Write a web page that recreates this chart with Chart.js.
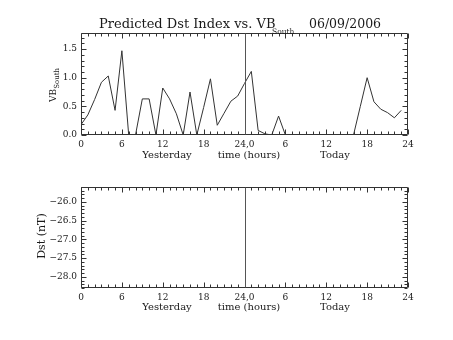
<!DOCTYPE html>
<html>
<head>
<meta charset="utf-8">
<script src="https://cdn.jsdelivr.net/npm/chart.js@4.4.0/dist/chart.umd.min.js"></script>
<style>
	body { margin: 0; background: #fff; }
	#wrap { position: relative; width: 453px; height: 340px; font-family: "DejaVu Serif", serif; color: #1a1a1a; }
	canvas { position: absolute; left: 0; }
	.lbl { position: absolute; white-space: nowrap; line-height: 1; }
	.rot { transform: translate(-50%, -50%) rotate(-90deg); }
</style>
</head>
<body>
<div id="wrap">
	<canvas id="vb-canvas" width="453" height="170" style="top:0"></canvas>
	<canvas id="dst-canvas" width="453" height="170" style="top:170px"></canvas>

	<div class="lbl" style="left:99px;top:17px;font-size:13px">Predicted Dst Index vs. VB</div>
	<div class="lbl" style="left:272px;top:28px;font-size:7.5px">South</div>
	<div class="lbl" style="left:309px;top:17.5px;font-size:12.5px">06/09/2006</div>

	<div class="lbl rot" style="left:53px;top:85px;font-size:9px">VB<span style="font-size:7px;position:relative;top:3px">South</span></div>
	<div class="lbl rot" style="left:41px;top:236px;font-size:11px">Dst (nT)</div>

	<div class="lbl" style="left:167px;top:150px;font-size:10px;transform:translateX(-50%)">Yesterday</div>
	<div class="lbl" style="left:249px;top:150px;font-size:10px;transform:translateX(-50%)">time (hours)</div>
	<div class="lbl" style="left:335px;top:150px;font-size:10px;transform:translateX(-50%)">Today</div>

	<div class="lbl" style="left:167px;top:302px;font-size:10px;transform:translateX(-50%)">Yesterday</div>
	<div class="lbl" style="left:249px;top:302px;font-size:10px;transform:translateX(-50%)">time (hours)</div>
	<div class="lbl" style="left:335px;top:302px;font-size:10px;transform:translateX(-50%)">Today</div>
</div>
<script>
// data

const hours = [
	0, 1, 2, 3, 4, 5, 6, 7, 8, 9, 10, 11, 12, 13, 14, 15, 16, 17, 18, 19, 20, 21, 22, 23,
	24, 25, 26, 27, 28, 29, 30, 31, 32, 33, 34, 35, 36, 37, 38, 39, 40, 41, 42, 43, 44, 45, 46, 47,
]
const vbSouth = [
	0.18, 0.35, 0.62, 0.92, 1.03, 0.43, 1.47, 0, 0, 0.63, 0.63, 0, 0.82, 0.63, 0.37, 0, 0.75, 0, 0.48, 0.98, 0.17, 0.38, 0.59, 0.68,
	0.9, 1.11, 0.08, 0.02, 0, 0.33, 0, 0, 0, 0, 0, 0, 0, 0, 0, 0, 0, 0.5, 1.0, 0.58, 0.45, 0.39, 0.3, 0.43,
]
const dstValues = []
const xTickLabels = ["0", "6", "12", "18", "24,0", "6", "12", "18", "24"]
const dayBreak = 24

// settings

const lineColor = "#333"
const textColor = "#1a1a1a"
const fontFamily = "'DejaVu Serif', serif"

// frame with inward ticks on all four sides, plus the day divider
const frameTicks = {
	id: "frameTicks",
	afterDatasetsDraw(chart) {
		const { ctx, chartArea: a, scales: { x, y } } = chart
		const l = Math.round(a.left) + 0.5
		const r = Math.round(a.right) - 0.5
		const t = Math.round(a.top) + 0.5
		const b = Math.round(a.bottom) - 0.5
		ctx.save()
		ctx.strokeStyle = lineColor
		ctx.lineWidth = 1
		ctx.beginPath()
		ctx.rect(l, t, r - l, b - t)
		for (let h = 0; h <= 48; h++) {
			const px = Math.round(x.getPixelForValue(h)) + 0.5
			const len = h % 6 === 0 ? 5 : 3
			ctx.moveTo(px, b)
			ctx.lineTo(px, b - len)
			ctx.moveTo(px, t)
			ctx.lineTo(px, t + len)
		}
		for (let i = Math.ceil(y.min * 10 - 1e-6); i <= Math.floor(y.max * 10 + 1e-6); i++) {
			const py = Math.round(y.getPixelForValue(i / 10)) + 0.5
			const len = i % 5 === 0 ? 5 : 3
			ctx.moveTo(l, py)
			ctx.lineTo(l + len, py)
			ctx.moveTo(r, py)
			ctx.lineTo(r - len, py)
		}
		ctx.stroke()
		ctx.beginPath()
		ctx.strokeStyle = "#555"
		const dx = Math.round(x.getPixelForValue(dayBreak)) + 0.5
		ctx.moveTo(dx, t)
		ctx.lineTo(dx, b)
		ctx.stroke()
		ctx.restore()
	},
}

const createChart = (target, values, yMin, yMax, padTop, xHeight) => {
	const config = {
		type: "line",
		data: {
			datasets: [
				{
					data: values.map((v, i) => ({ x: hours[i], y: v })),
					borderColor: lineColor,
					borderWidth: 1,
					pointRadius: 0,
					tension: 0,
				},
			],
		},
		options: {
			responsive: false,
			animation: false,
			devicePixelRatio: 1,
			layout: { padding: { top: padTop, right: 45, bottom: 0, left: 0 } },
			plugins: {
				legend: { display: false },
				tooltip: { enabled: false },
			},
			scales: {
				x: {
					type: "linear",
					min: 0,
					max: 48,
					grid: { display: false, drawTicks: false },
					border: { display: false },
					afterFit: s => {
						s.height = xHeight
					},
					ticks: {
						stepSize: 6,
						autoSkip: false,
						maxRotation: 0,
						padding: 4,
						color: textColor,
						font: { family: fontFamily, size: 9 },
						callback: v => xTickLabels[Math.round(v / 6)],
					},
				},
				y: {
					min: yMin,
					max: yMax,
					grid: { display: false, drawTicks: false },
					border: { display: false },
					afterFit: s => {
						s.width = 81
					},
					ticks: {
						stepSize: 0.5,
						includeBounds: false,
						padding: 4,
						color: textColor,
						font: { family: fontFamily, size: 9 },
						callback: v => v.toFixed(1).replace("-", "\u2212"),
					},
				},
			},
		},
		plugins: [frameTicks],
	}
	return new Chart(target, config)
}

createChart(document.querySelector("#vb-canvas"), vbSouth, 0, 1.78, 33, 35)
createChart(document.querySelector("#dst-canvas"), dstValues, -28.3, -25.6, 17, 52)
</script>
</body>
</html>
